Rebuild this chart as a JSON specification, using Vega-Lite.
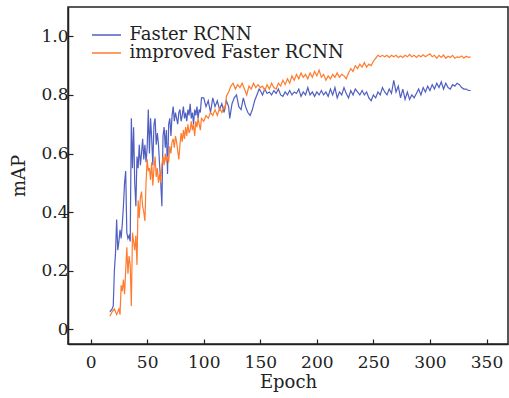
{
  "$schema": "https://vega.github.io/schema/vega-lite/v6.json",
  "width": 440,
  "height": 337,
  "autosize": {"type": "none"},
  "padding": {"left": 68, "top": 7, "right": 1, "bottom": 54},
  "background": "white",
  "config": {
    "font": "DejaVu Serif",
    "view": {"stroke": "#222", "strokeWidth": 1.5},
    "axis": {"grid": false, "domainColor": "#222", "domainWidth": 1.5, "tickColor": "#222", "tickWidth": 1.2, "tickSize": -5, "labelColor": "#222", "titleColor": "#222", "labelFontSize": 17, "titleFontSize": 18, "titleFontWeight": "normal"},
    "legend": {"labelFontSize": 18, "labelColor": "#222", "labelLimit": 0}
  },
  "datasets": {
    "frcnn": [
      {"e":17,"m":0.06},{"e":19,"m":0.07},{"e":20,"m":0.08},{"e":21,"m":0.2},{"e":22,"m":0.26},{"e":23,"m":0.375},{"e":24,"m":0.27},{"e":25,"m":0.3},{"e":26,"m":0.34},{"e":27,"m":0.31},{"e":28,"m":0.36},{"e":29,"m":0.42},{"e":30,"m":0.5},{"e":31,"m":0.54},{"e":32,"m":0.33},{"e":33,"m":0.31},{"e":34,"m":0.32},{"e":35,"m":0.3},{"e":36,"m":0.72},{"e":37,"m":0.55},{"e":38,"m":0.69},{"e":39,"m":0.5},{"e":40,"m":0.42},{"e":41,"m":0.59},{"e":42,"m":0.55},{"e":43,"m":0.63},{"e":44,"m":0.56},{"e":45,"m":0.6},{"e":46,"m":0.65},{"e":47,"m":0.58},{"e":48,"m":0.63},{"e":49,"m":0.57},{"e":50,"m":0.62},{"e":51,"m":0.75},{"e":52,"m":0.6},{"e":53,"m":0.72},{"e":54,"m":0.65},{"e":55,"m":0.56},{"e":56,"m":0.7},{"e":57,"m":0.72},{"e":58,"m":0.63},{"e":59,"m":0.67},{"e":60,"m":0.63},{"e":61,"m":0.56},{"e":62,"m":0.5},{"e":63,"m":0.42},{"e":64,"m":0.66},{"e":65,"m":0.69},{"e":66,"m":0.62},{"e":67,"m":0.68},{"e":68,"m":0.53},{"e":69,"m":0.7},{"e":70,"m":0.72},{"e":71,"m":0.66},{"e":72,"m":0.73},{"e":73,"m":0.76},{"e":74,"m":0.71},{"e":75,"m":0.74},{"e":76,"m":0.72},{"e":77,"m":0.7},{"e":78,"m":0.74},{"e":79,"m":0.75},{"e":80,"m":0.71},{"e":81,"m":0.73},{"e":82,"m":0.76},{"e":83,"m":0.72},{"e":84,"m":0.74},{"e":85,"m":0.71},{"e":86,"m":0.75},{"e":87,"m":0.73},{"e":88,"m":0.77},{"e":89,"m":0.72},{"e":90,"m":0.74},{"e":91,"m":0.7},{"e":92,"m":0.75},{"e":93,"m":0.73},{"e":94,"m":0.76},{"e":95,"m":0.72},{"e":96,"m":0.75},{"e":97,"m":0.74},{"e":98,"m":0.79},{"e":100,"m":0.79},{"e":102,"m":0.76},{"e":104,"m":0.78},{"e":106,"m":0.74},{"e":108,"m":0.79},{"e":110,"m":0.76},{"e":112,"m":0.78},{"e":114,"m":0.75},{"e":116,"m":0.77},{"e":118,"m":0.74},{"e":120,"m":0.78},{"e":122,"m":0.76},{"e":123,"m":0.72},{"e":125,"m":0.77},{"e":127,"m":0.79},{"e":129,"m":0.8},{"e":131,"m":0.76},{"e":133,"m":0.75},{"e":135,"m":0.79},{"e":137,"m":0.76},{"e":139,"m":0.74},{"e":141,"m":0.73},{"e":143,"m":0.75},{"e":145,"m":0.78},{"e":147,"m":0.8},{"e":149,"m":0.82},
      {"e":150,"m":0.815},{"e":152,"m":0.8},{"e":154,"m":0.82},{"e":156,"m":0.805},{"e":158,"m":0.81},{"e":160,"m":0.8},{"e":162,"m":0.815},{"e":164,"m":0.805},{"e":166,"m":0.82},{"e":168,"m":0.8},{"e":170,"m":0.795},{"e":172,"m":0.81},{"e":174,"m":0.8},{"e":176,"m":0.815},{"e":178,"m":0.8},{"e":180,"m":0.81},{"e":182,"m":0.805},{"e":184,"m":0.82},{"e":186,"m":0.795},{"e":188,"m":0.81},{"e":190,"m":0.8},{"e":192,"m":0.825},{"e":194,"m":0.8},{"e":196,"m":0.81},{"e":198,"m":0.795},{"e":200,"m":0.81},{"e":202,"m":0.8},{"e":204,"m":0.815},{"e":206,"m":0.8},{"e":208,"m":0.81},{"e":210,"m":0.795},{"e":212,"m":0.82},{"e":214,"m":0.8},{"e":216,"m":0.825},{"e":218,"m":0.79},{"e":220,"m":0.81},{"e":222,"m":0.8},{"e":224,"m":0.825},{"e":226,"m":0.805},{"e":228,"m":0.79},{"e":230,"m":0.815},{"e":232,"m":0.8},{"e":234,"m":0.82},{"e":236,"m":0.81},{"e":238,"m":0.8},{"e":240,"m":0.815},{"e":242,"m":0.8},{"e":244,"m":0.81},{"e":246,"m":0.79},{"e":248,"m":0.78},{"e":250,"m":0.8},{"e":252,"m":0.79},{"e":254,"m":0.81},{"e":256,"m":0.8},{"e":258,"m":0.825},{"e":260,"m":0.81},{"e":262,"m":0.8},{"e":264,"m":0.82},{"e":266,"m":0.805},{"e":268,"m":0.85},{"e":270,"m":0.81},{"e":272,"m":0.83},{"e":274,"m":0.79},{"e":276,"m":0.82},{"e":278,"m":0.785},{"e":280,"m":0.81},{"e":282,"m":0.785},{"e":284,"m":0.8},{"e":286,"m":0.79},{"e":288,"m":0.805},{"e":290,"m":0.82},{"e":292,"m":0.8},{"e":294,"m":0.825},{"e":296,"m":0.81},{"e":298,"m":0.83},{"e":300,"m":0.815},{"e":302,"m":0.835},{"e":304,"m":0.82},{"e":306,"m":0.84},{"e":308,"m":0.825},{"e":310,"m":0.845},{"e":312,"m":0.82},{"e":314,"m":0.84},{"e":316,"m":0.825},{"e":318,"m":0.82},{"e":320,"m":0.835},{"e":322,"m":0.83},{"e":324,"m":0.84},{"e":326,"m":0.835},{"e":328,"m":0.825},{"e":330,"m":0.82},{"e":332,"m":0.82},{"e":334,"m":0.815},{"e":336,"m":0.815}
    ],
    "improved": [
      {"e":17,"m":0.045},{"e":19,"m":0.06},{"e":21,"m":0.07},{"e":23,"m":0.05},{"e":25,"m":0.07},{"e":26,"m":0.05},{"e":27,"m":0.15},{"e":28,"m":0.13},{"e":29,"m":0.17},{"e":30,"m":0.12},{"e":31,"m":0.2},{"e":32,"m":0.28},{"e":33,"m":0.19},{"e":34,"m":0.25},{"e":35,"m":0.22},{"e":36,"m":0.08},{"e":37,"m":0.33},{"e":38,"m":0.3},{"e":39,"m":0.27},{"e":40,"m":0.32},{"e":41,"m":0.22},{"e":42,"m":0.44},{"e":43,"m":0.38},{"e":44,"m":0.45},{"e":45,"m":0.47},{"e":46,"m":0.42},{"e":47,"m":0.4},{"e":48,"m":0.37},{"e":49,"m":0.5},{"e":50,"m":0.58},{"e":51,"m":0.54},{"e":52,"m":0.55},{"e":53,"m":0.51},{"e":54,"m":0.57},{"e":55,"m":0.49},{"e":56,"m":0.55},{"e":57,"m":0.59},{"e":58,"m":0.52},{"e":59,"m":0.55},{"e":60,"m":0.5},{"e":61,"m":0.53},{"e":62,"m":0.5},{"e":63,"m":0.56},{"e":64,"m":0.59},{"e":65,"m":0.56},{"e":66,"m":0.6},{"e":67,"m":0.57},{"e":68,"m":0.59},{"e":69,"m":0.57},{"e":70,"m":0.625},{"e":71,"m":0.6},{"e":72,"m":0.64},{"e":73,"m":0.65},{"e":74,"m":0.62},{"e":75,"m":0.66},{"e":76,"m":0.64},{"e":77,"m":0.61},{"e":78,"m":0.58},{"e":79,"m":0.63},{"e":80,"m":0.67},{"e":81,"m":0.64},{"e":82,"m":0.68},{"e":83,"m":0.65},{"e":84,"m":0.69},{"e":85,"m":0.66},{"e":86,"m":0.7},{"e":87,"m":0.67},{"e":88,"m":0.68},{"e":89,"m":0.71},{"e":90,"m":0.68},{"e":91,"m":0.7},{"e":92,"m":0.66},{"e":93,"m":0.71},{"e":94,"m":0.69},{"e":95,"m":0.72},{"e":96,"m":0.7},{"e":97,"m":0.68},{"e":98,"m":0.72},{"e":100,"m":0.71},{"e":102,"m":0.73},{"e":104,"m":0.72},{"e":106,"m":0.74},{"e":108,"m":0.73},{"e":110,"m":0.75},{"e":112,"m":0.73},{"e":114,"m":0.755},{"e":116,"m":0.74},{"e":118,"m":0.76},{"e":119,"m":0.75},{"e":120,"m":0.795},{"e":122,"m":0.81},{"e":124,"m":0.83},{"e":126,"m":0.84},{"e":128,"m":0.82},{"e":130,"m":0.835},{"e":132,"m":0.825},{"e":134,"m":0.84},{"e":136,"m":0.82},{"e":138,"m":0.8},{"e":140,"m":0.83},{"e":142,"m":0.82},{"e":144,"m":0.84},{"e":146,"m":0.825},{"e":148,"m":0.835},
      {"e":150,"m":0.825},{"e":152,"m":0.83},{"e":154,"m":0.815},{"e":156,"m":0.835},{"e":158,"m":0.82},{"e":160,"m":0.84},{"e":162,"m":0.825},{"e":164,"m":0.82},{"e":166,"m":0.84},{"e":168,"m":0.83},{"e":170,"m":0.85},{"e":172,"m":0.835},{"e":174,"m":0.855},{"e":176,"m":0.84},{"e":178,"m":0.865},{"e":180,"m":0.85},{"e":182,"m":0.87},{"e":184,"m":0.855},{"e":186,"m":0.875},{"e":188,"m":0.86},{"e":190,"m":0.87},{"e":192,"m":0.855},{"e":194,"m":0.875},{"e":196,"m":0.86},{"e":198,"m":0.88},{"e":200,"m":0.865},{"e":202,"m":0.885},{"e":204,"m":0.86},{"e":206,"m":0.87},{"e":208,"m":0.85},{"e":210,"m":0.865},{"e":212,"m":0.855},{"e":214,"m":0.87},{"e":216,"m":0.86},{"e":218,"m":0.875},{"e":220,"m":0.86},{"e":222,"m":0.87},{"e":224,"m":0.865},{"e":226,"m":0.855},{"e":228,"m":0.875},{"e":230,"m":0.89},{"e":232,"m":0.88},{"e":234,"m":0.9},{"e":236,"m":0.89},{"e":238,"m":0.905},{"e":240,"m":0.895},{"e":242,"m":0.91},{"e":244,"m":0.895},{"e":246,"m":0.905},{"e":248,"m":0.9},{"e":250,"m":0.915},{"e":252,"m":0.925},{"e":254,"m":0.935},{"e":256,"m":0.93},{"e":258,"m":0.935},{"e":260,"m":0.93},{"e":262,"m":0.935},{"e":264,"m":0.928},{"e":266,"m":0.935},{"e":268,"m":0.93},{"e":270,"m":0.935},{"e":272,"m":0.928},{"e":274,"m":0.933},{"e":276,"m":0.928},{"e":278,"m":0.935},{"e":280,"m":0.93},{"e":282,"m":0.938},{"e":284,"m":0.93},{"e":286,"m":0.935},{"e":288,"m":0.928},{"e":290,"m":0.935},{"e":292,"m":0.93},{"e":294,"m":0.937},{"e":296,"m":0.93},{"e":298,"m":0.935},{"e":300,"m":0.94},{"e":302,"m":0.93},{"e":304,"m":0.935},{"e":306,"m":0.925},{"e":308,"m":0.935},{"e":310,"m":0.928},{"e":312,"m":0.936},{"e":314,"m":0.925},{"e":316,"m":0.932},{"e":318,"m":0.928},{"e":320,"m":0.935},{"e":322,"m":0.925},{"e":324,"m":0.93},{"e":326,"m":0.928},{"e":328,"m":0.933},{"e":330,"m":0.925},{"e":332,"m":0.932},{"e":334,"m":0.928},{"e":336,"m":0.93}
    ]
  },
  "encoding": {
    "x": {"field": "e", "type": "quantitative", "title": "Epoch", "scale": {"domain": [-20, 369], "nice": false, "zero": false}, "axis": {"values": [0, 50, 100, 150, 200, 250, 300, 350], "labelPadding": 15, "titlePadding": 3}},
    "y": {"field": "m", "type": "quantitative", "title": "mAP", "scale": {"domain": [-0.05, 1.1], "nice": false, "zero": false}, "axis": {"values": [0, 0.2, 0.4, 0.6, 0.8, 1.0], "labelExpr": "datum.value == 0 ? '0' : format(datum.value, '.1f')", "labelPadding": 5, "titlePadding": 12}}
  },
  "layer": [
    {
      "data": {"name": "frcnn"},
      "mark": {"type": "line", "strokeWidth": 1.2, "clip": true},
      "encoding": {"color": {"datum": "Faster RCNN", "type": "nominal", "scale": {"domain": ["Faster RCNN", "improved Faster RCNN"], "range": ["#4f5fc2", "#ff7b2e"]}, "legend": {"title": null, "orient": "none", "legendX": 29.5, "legendY": 19, "symbolType": "M-2.9,0H2.9", "symbolSize": 100, "symbolStrokeWidth": 1.5, "labelOffset": 14, "rowPadding": -3, "labelFont": "DejaVu Serif", "padding": 0}}}
    },
    {
      "data": {"name": "improved"},
      "mark": {"type": "line", "strokeWidth": 1.2, "clip": true},
      "encoding": {"color": {"datum": "improved Faster RCNN", "type": "nominal"}}
    }
  ]
}
